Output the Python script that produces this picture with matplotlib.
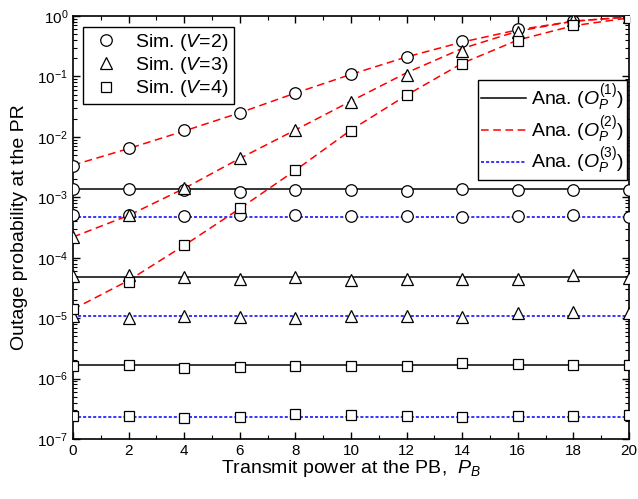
import numpy as np
import matplotlib.pyplot as plt
from matplotlib.lines import Line2D

plt.rcParams['font.family'] = 'Liberation Sans'
plt.rcParams['mathtext.fontset'] = 'custom'
plt.rcParams['mathtext.rm'] = 'Liberation Sans'
plt.rcParams['mathtext.it'] = 'Liberation Sans:italic'

# transmit power values
pb = [0, 2, 4, 6, 8, 10, 12, 14, 16, 18, 20]

# analytical O_P^(2) (red dashed), one per V
ana2_v2 = [3.4e-3, 6.4e-3, 1.25e-2, 2.5e-2, 5.3e-2, 1.08e-1, 2.1e-1, 3.7e-1, 5.9e-1, 8.2e-1, 9.6e-1]
ana2_v3 = [2.2e-4, 5.0e-4, 1.4e-3, 4.4e-3, 1.3e-2, 3.9e-2, 1.15e-1, 2.9e-1, 5.6e-1, 8.2e-1, 9.7e-1]
ana2_v4 = [1.4e-5, 4.2e-5, 1.6e-4, 6.5e-4, 2.8e-3, 1.3e-2, 4.9e-2, 1.65e-1, 4.0e-1, 6.9e-1, 9.3e-1]

# analytical O_P^(1) and O_P^(3) (flat)
ana1 = {2: 1.35e-3, 3: 4.8e-5, 4: 1.65e-6}
ana3 = {2: 4.8e-4, 3: 1.08e-5, 4: 2.35e-7}

# simulation points
sim2_v2 = [3.3e-3, 6.5e-3, 1.3e-2, 2.5e-2, 5.4e-2, 1.1e-1, 2.1e-1, 3.8e-1, 6.0e-1, 8.4e-1, 9.6e-1]
sim2_v3 = [2.2e-4, 5.0e-4, 1.45e-3, 4.4e-3, 1.3e-2, 3.8e-2, 1.05e-1, 2.6e-1, 5.4e-1, 8.6e-1, 9.7e-1]
sim2_v4 = [1.4e-5, 4.0e-5, 1.6e-4, 6.6e-4, 2.8e-3, 1.25e-2, 4.9e-2, 1.6e-1, 3.9e-1, 7.0e-1, 9.3e-1]

sim1_v2 = [1.35e-3, 1.35e-3, 1.3e-3, 1.2e-3, 1.3e-3, 1.32e-3, 1.28e-3, 1.35e-3, 1.3e-3, 1.3e-3, 1.32e-3]
sim3_v2 = [5.0e-4, 5.0e-4, 4.9e-4, 5.0e-4, 5.0e-4, 4.9e-4, 4.9e-4, 4.7e-4, 4.9e-4, 5.0e-4, 4.8e-4]
sim1_v3 = [5.0e-5, 5.2e-5, 4.8e-5, 4.5e-5, 4.8e-5, 4.2e-5, 4.5e-5, 4.4e-5, 4.5e-5, 5.1e-5, 4.6e-5]
sim3_v3 = [1.1e-5, 1.0e-5, 1.1e-5, 1.05e-5, 1.0e-5, 1.1e-5, 1.1e-5, 1.05e-5, 1.2e-5, 1.25e-5, 1.2e-5]
sim1_v4 = [1.6e-6, 1.7e-6, 1.5e-6, 1.55e-6, 1.6e-6, 1.6e-6, 1.6e-6, 1.8e-6, 1.75e-6, 1.65e-6, 1.7e-6]
sim3_v4 = [2.4e-7, 2.4e-7, 2.2e-7, 2.35e-7, 2.6e-7, 2.5e-7, 2.4e-7, 2.35e-7, 2.4e-7, 2.4e-7, 2.5e-7]

red_ls = (0, (5, 3))
blue_ls = (0, (2, 1.3))

fig = plt.figure(figsize=(6.38, 4.99), dpi=100)
ax = fig.add_axes([0.1144, 0.1202, 0.8716, 0.8478])

# analytical lines
for v in (2, 3, 4):
    ax.plot(pb, [ana1[v]] * len(pb), color='black', lw=1.1, zorder=2)
    ax.plot(pb, [ana3[v]] * len(pb), color='blue', lw=1.1, ls=blue_ls, zorder=2)
for curve in (ana2_v2, ana2_v3, ana2_v4):
    ax.plot(pb, curve, color='red', lw=1.1, ls=red_ls, zorder=2)

mk = dict(ls='none', mfc='white', mec='black', mew=0.9, zorder=3)
for s in (sim2_v2, sim1_v2, sim3_v2):
    ax.plot(pb, s, marker='o', ms=8.3, **mk)
for s in (sim2_v3, sim1_v3, sim3_v3):
    ax.plot(pb, s, marker='^', ms=9.2, **mk)
for s in (sim2_v4, sim1_v4, sim3_v4):
    ax.plot(pb, s, marker='s', ms=7.4, **mk)

ax.set_yscale('log')
ax.set_xlim(0, 20)
ax.set_ylim(1e-7, 1)
ax.set_xticks(range(0, 21, 2))
ax.set_xticks(range(0, 21, 1), minor=True)
ax.set_yticks([10.0 ** k for k in range(-7, 1)])
ax.tick_params(which='both', direction='in', top=True, right=True, labelsize=11)
ax.tick_params(which='major', length=5, width=1)
ax.tick_params(which='minor', length=3, width=0.8)
for sp in ax.spines.values():
    sp.set_linewidth(1.2)

ax.set_xlabel('Transmit power at the PB,  $P_B$', fontsize=14, labelpad=0)
ax.set_ylabel('Outage probability at the PR', fontsize=14, labelpad=7)

h1 = [Line2D([], [], marker='o', ms=8.3, ls='none', mfc='white', mec='black', mew=0.9),
      Line2D([], [], marker='^', ms=9.2, ls='none', mfc='white', mec='black', mew=0.9),
      Line2D([], [], marker='s', ms=7.4, ls='none', mfc='white', mec='black', mew=0.9)]
leg1 = ax.legend(h1, ['Sim. ($V$=2)', 'Sim. ($V$=3)', 'Sim. ($V$=4)'],
                 loc='upper left', bbox_to_anchor=(0.018, 0.974), borderaxespad=0,
                 fontsize=14, fancybox=False, edgecolor='black', framealpha=1,
                 borderpad=0.25, handletextpad=0.55, labelspacing=0.12, handlelength=1.9)
leg1.get_frame().set_linewidth(1.0)
ax.add_artist(leg1)

h2 = [Line2D([], [], color='black', lw=1.1),
      Line2D([], [], color='red', lw=1.1, ls=red_ls),
      Line2D([], [], color='blue', lw=1.1, ls=blue_ls)]
leg2 = ax.legend(h2, [r'Ana. ($O_P^{\mathit{(1)}}$)', r'Ana. ($O_P^{\mathit{(2)}}$)',
                      r'Ana. ($O_P^{\mathit{(3)}}$)'],
                 loc='upper right', bbox_to_anchor=(0.9964, 0.8487), borderaxespad=0,
                 fontsize=14, fancybox=False, edgecolor='black', framealpha=1,
                 borderpad=0.15, handletextpad=0.25, labelspacing=0.02, handlelength=2.35)
leg2.get_frame().set_linewidth(1.0)

fig.savefig('out.png', dpi=100)
